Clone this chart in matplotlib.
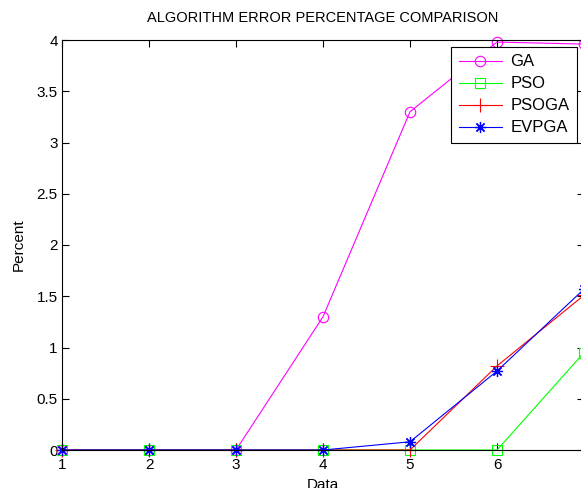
import matplotlib
matplotlib.use("Agg")
import matplotlib.pyplot as plt
import numpy as np

plt.rcParams['font.family'] = ['Liberation Sans', 'DejaVu Sans']

data = [1, 2, 3, 4, 5, 6, 7]
ga = [0, 0, 0, 1.3, 3.3, 3.98, 3.96]
pso = [0, 0, 0, 0, 0, 0, 0.95]
psoga = [0, 0, 0, 0, 0, 0.82, 1.51]
evpga = [0, 0, 0, 0, 0.08, 0.77, 1.57]

fig = plt.figure(figsize=(5.81, 4.88), dpi=100)
# axes box runs slightly past the right edge of the picture
ax = fig.add_axes([62 / 581, 38 / 488, 522 / 581, 410 / 488])

ax.plot(data, ga, color="#ff00ff", marker="o", mfc="none", ms=7.5, lw=0.8, mew=0.8,
        label="GA", clip_on=False)
ax.plot(data, pso, color="#00ff00", marker="s", mfc="none", ms=7.5, lw=0.8, mew=0.8,
        label="PSO", clip_on=False)
ax.plot(data, psoga, color="#ff0000", marker="+", ms=10, lw=0.8, mew=0.8,
        label="PSOGA", clip_on=False)
ax.plot(data, evpga, color="#0000ff", marker=(8, 2, 0), ms=8, lw=0.8, mew=0.9,
        label="EVPGA", clip_on=False)

ax.set_xlim(1, 7)
ax.set_ylim(0, 4)
ax.set_xticks(data)
ax.set_yticks(np.arange(0, 4.01, 0.5))
ax.set_yticklabels(["0", "0.5", "1", "1.5", "2", "2.5", "3", "3.5", "4"])
ax.tick_params(direction="in", top=True, right=True, labelsize=11, length=5, pad=3)
ax.tick_params(axis="x", pad=6)
for s in ax.spines.values():
    s.set_linewidth(0.8)

ax.set_title("ALGORITHM ERROR PERCENTAGE COMPARISON", fontsize=10.5, pad=13)
ax.set_xlabel("Data", fontsize=11, labelpad=4)
ax.set_ylabel("Percent", fontsize=11, labelpad=8)

leg = ax.legend(loc="upper right", bbox_to_anchor=(577 / 581, 1 - 47 / 488),
                bbox_transform=fig.transFigure, borderaxespad=0, fancybox=False,
                edgecolor="black", framealpha=1, fontsize=12, handlelength=2.6,
                labelspacing=0.42, borderpad=0.45, handletextpad=0.5)
leg.get_frame().set_linewidth(0.8)
leg.set_zorder(5)

fig.savefig("out.png", dpi=100)
